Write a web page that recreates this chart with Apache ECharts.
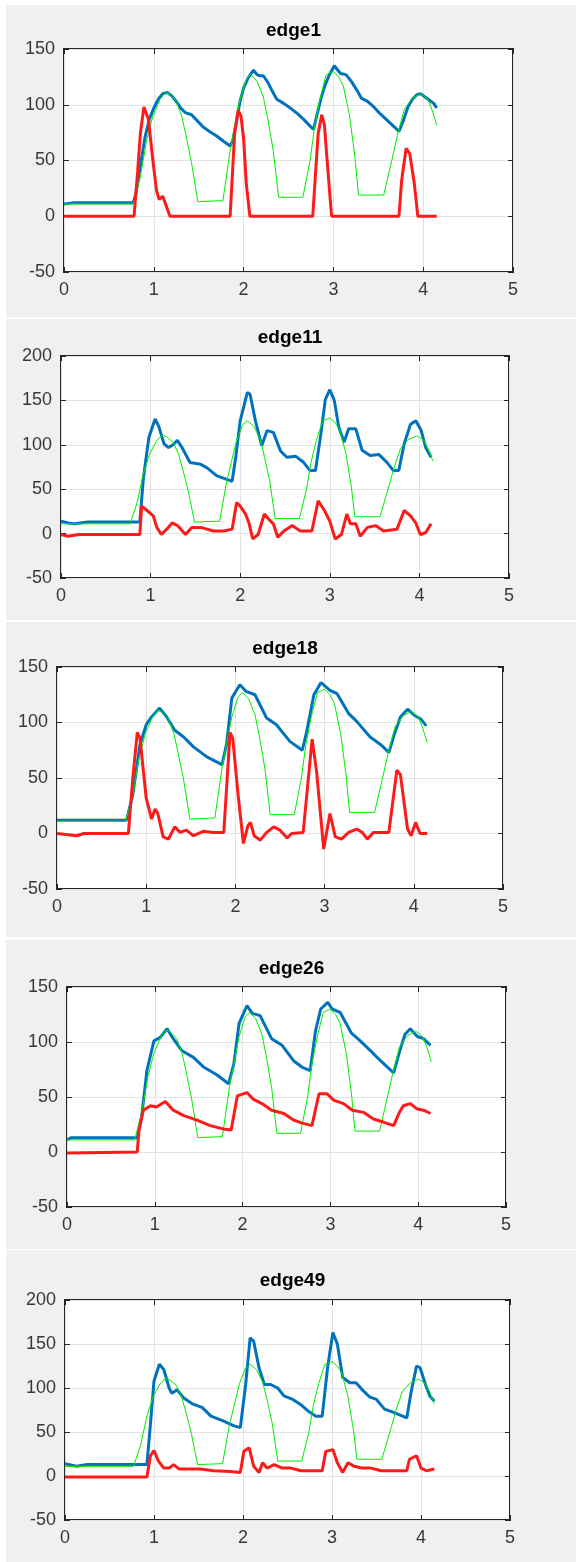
<!DOCTYPE html>
<html>
<head>
<meta charset="utf-8">
<script src="https://cdn.jsdelivr.net/npm/echarts@6/dist/echarts.min.js"></script>
<style>
  html, body { margin: 0; padding: 0; background: #fff; }
  body { width: 576px; height: 1562px; position: relative; overflow: hidden; }
  .panel { position: absolute; left: 6px; width: 570px; background: #f0f0f0; }
</style>
</head>
<body>
<div class="panel" id="p1" style="top:5px;height:312px"></div>
<div class="panel" id="p2" style="top:319px;height:301px"></div>
<div class="panel" id="p3" style="top:622px;height:315px"></div>
<div class="panel" id="p4" style="top:940px;height:309px"></div>
<div class="panel" id="p5" style="top:1250px;height:312px"></div>
<script>
// green reference curve (same in every panel)
const green = [[0,11],[0.77,11],[0.85,35],[0.92,68],[0.99,90],[1.07,105],[1.13,111],[1.18,109],[1.25,103],[1.31,90],[1.36,72],[1.42,48],[1.49,13],[1.77,14],[1.85,59],[1.9,80],[1.96,105],[2.03,123],[2.08,127],[2.15,121],[2.22,107],[2.27,87],[2.33,59],[2.39,17],[2.66,17],[2.74,50],[2.79,80],[2.85,105],[2.92,127],[3.0,130],[3.06,125],[3.11,117],[3.18,90],[3.24,53],[3.28,19],[3.56,19],[3.65,50],[3.72,75],[3.79,96],[3.88,106],[3.97,110],[4.05,105],[4.1,95],[4.15,82]];

// edge1
const blue1 = [[0,11],[0.1,12],[0.77,12],[0.8,20],[0.85,45],[0.9,70],[0.95,87],[1.0,97],[1.05,105],[1.1,110],[1.15,111],[1.2,108],[1.25,103],[1.3,97],[1.35,93],[1.42,91],[1.48,86],[1.55,80],[1.62,76],[1.7,72],[1.78,67],[1.85,63],[1.88,68],[1.92,85],[1.96,103],[2.0,115],[2.05,124],[2.11,131],[2.15,127],[2.18,126],[2.22,126],[2.27,120],[2.32,112],[2.37,105],[2.45,101],[2.52,97],[2.6,92],[2.68,86],[2.75,80],[2.78,78],[2.82,92],[2.86,105],[2.9,116],[2.95,126],[3.01,135],[3.05,131],[3.08,128],[3.14,127],[3.2,121],[3.27,112],[3.31,106],[3.38,103],[3.45,98],[3.52,92],[3.6,86],[3.68,80],[3.73,76],[3.78,86],[3.83,98],[3.88,105],[3.93,109],[3.97,110],[4.02,107],[4.07,104],[4.12,101],[4.15,97]];
const red1 = [[0,0],[0.78,0],[0.82,40],[0.85,74],[0.89,98],[0.94,87],[0.99,50],[1.03,23],[1.06,15],[1.1,18],[1.14,9],[1.18,0],[1.85,0],[1.9,74],[1.94,95],[1.97,90],[2.0,70],[2.03,29],[2.07,0],[2.77,0],[2.83,74],[2.87,91],[2.9,82],[2.93,50],[2.98,0],[3.73,0],[3.76,32],[3.81,61],[3.85,56],[3.9,30],[3.94,0],[4.15,0]];

// edge11
const blue2 = [[0,14],[0.08,12],[0.15,11],[0.3,13],[0.88,13],[0.92,63],[0.98,108],[1.05,129],[1.09,121],[1.15,101],[1.2,97],[1.25,100],[1.3,105],[1.35,97],[1.44,80],[1.56,78],[1.63,74],[1.74,65],[1.85,61],[1.91,59],[1.95,86],[2.0,127],[2.08,159],[2.11,157],[2.17,127],[2.24,99],[2.3,116],[2.37,114],[2.45,93],[2.52,86],[2.62,87],[2.71,80],[2.78,71],[2.84,71],[2.9,112],[2.95,151],[3.0,162],[3.05,150],[3.1,120],[3.16,103],[3.21,118],[3.29,118],[3.36,94],[3.45,88],[3.55,89],[3.64,80],[3.71,71],[3.77,71],[3.83,101],[3.9,123],[3.96,127],[4.02,116],[4.07,97],[4.13,86]];
const red2 = [[0,-1],[0.08,-3],[0.2,-1],[0.88,-1],[0.9,31],[0.96,26],[1.03,20],[1.07,7],[1.12,-1],[1.18,5],[1.24,12],[1.3,9],[1.39,-1],[1.46,7],[1.56,7],[1.63,5],[1.7,3],[1.82,3],[1.91,5],[1.96,35],[2.0,31],[2.06,22],[2.1,11],[2.14,-6],[2.2,-1],[2.27,22],[2.32,16],[2.37,11],[2.42,-4],[2.49,3],[2.58,9],[2.67,3],[2.8,3],[2.87,37],[2.94,26],[3.0,14],[3.06,-6],[3.13,-1],[3.19,22],[3.23,11],[3.29,11],[3.34,-3],[3.42,7],[3.51,9],[3.6,3],[3.75,5],[3.83,26],[3.9,20],[3.96,12],[4.01,-1],[4.07,1],[4.13,11]];

// edge18
const blue3 = [[0,12],[0.78,12],[0.85,35],[0.93,80],[1.0,98],[1.06,105],[1.15,113],[1.23,105],[1.32,93],[1.42,87],[1.53,78],[1.68,69],[1.85,62],[1.9,80],[1.96,122],[2.05,134],[2.12,128],[2.22,125],[2.35,104],[2.46,98],[2.61,83],[2.75,75],[2.8,92],[2.88,125],[2.96,136],[3.06,129],[3.14,126],[3.27,108],[3.36,101],[3.51,87],[3.63,80],[3.72,73],[3.78,89],[3.85,105],[3.93,112],[4.0,107],[4.08,103],[4.14,97]];
const red3 = [[0,0],[0.1,-1],[0.22,-2],[0.3,0],[0.8,0],[0.85,50],[0.9,91],[0.93,86],[1.0,32],[1.06,13],[1.1,22],[1.13,18],[1.19,-3],[1.25,-5],[1.32,6],[1.38,1],[1.45,3],[1.53,-2],[1.64,2],[1.75,1],[1.87,1],[1.94,91],[1.97,86],[2.03,35],[2.09,-9],[2.14,7],[2.17,10],[2.21,-2],[2.28,-6],[2.35,1],[2.43,6],[2.5,3],[2.58,-4],[2.63,0],[2.76,1],[2.86,85],[2.91,56],[2.99,-14],[3.06,18],[3.12,-3],[3.19,-5],[3.27,1],[3.36,4],[3.42,1],[3.48,-5],[3.55,1],[3.72,1],[3.81,57],[3.85,53],[3.93,4],[3.97,-2],[4.02,10],[4.07,0],[4.15,0]];

// edge26
const blue4 = [[0,11],[0.05,13],[0.8,13],[0.85,32],[0.91,74],[0.99,101],[1.06,104],[1.14,112],[1.21,103],[1.31,92],[1.44,86],[1.56,77],[1.71,70],[1.84,62],[1.9,80],[1.96,117],[2.05,133],[2.11,126],[2.2,124],[2.33,103],[2.45,97],[2.58,83],[2.68,77],[2.77,74],[2.83,110],[2.89,130],[2.97,136],[3.02,130],[3.11,127],[3.24,108],[3.34,101],[3.47,91],[3.57,83],[3.72,72],[3.79,92],[3.85,107],[3.91,112],[3.99,105],[4.06,103],[4.14,97]];
const red4 = [[0,-1],[0.8,0],[0.82,20],[0.87,38],[0.95,42],[1.02,41],[1.12,46],[1.21,38],[1.33,33],[1.48,29],[1.63,24],[1.78,21],[1.87,20],[1.94,51],[2.05,54],[2.12,48],[2.22,44],[2.33,38],[2.47,35],[2.58,29],[2.69,26],[2.79,24],[2.87,53],[2.96,53],[3.04,47],[3.15,44],[3.25,38],[3.38,36],[3.49,30],[3.61,27],[3.72,24],[3.78,35],[3.83,42],[3.91,44],[3.99,39],[4.06,38],[4.14,35]];

// edge49
const blue5 = [[0,14],[0.13,11],[0.25,13],[0.92,13],[0.96,59],[1.0,108],[1.06,127],[1.11,121],[1.17,100],[1.2,94],[1.26,98],[1.33,89],[1.43,82],[1.54,78],[1.64,68],[1.77,63],[1.9,57],[1.97,55],[2.03,104],[2.08,157],[2.12,153],[2.18,123],[2.24,104],[2.31,104],[2.39,100],[2.46,91],[2.56,87],[2.65,81],[2.73,74],[2.82,68],[2.89,68],[2.95,123],[3.01,163],[3.06,150],[3.12,112],[3.2,106],[3.27,106],[3.35,97],[3.42,90],[3.5,87],[3.59,76],[3.7,72],[3.84,66],[3.89,96],[3.95,125],[3.99,123],[4.05,104],[4.1,91],[4.15,85]];
const red5 = [[0,-1],[0.92,-1],[0.96,23],[1.0,29],[1.05,17],[1.11,9],[1.17,9],[1.22,13],[1.28,8],[1.37,8],[1.52,8],[1.67,6],[1.86,5],[1.97,4],[2.01,28],[2.07,32],[2.12,11],[2.18,4],[2.22,15],[2.27,9],[2.35,13],[2.44,9],[2.54,9],[2.65,6],[2.78,6],[2.89,6],[2.93,28],[3.01,30],[3.06,15],[3.12,4],[3.18,15],[3.25,11],[3.33,9],[3.44,9],[3.55,6],[3.7,6],[3.84,6],[3.87,19],[3.95,23],[4.0,9],[4.06,6],[4.15,8]];

const titles = ['edge1', 'edge11', 'edge18', 'edge26', 'edge49'];
const yMaxes = [150, 200, 150, 150, 200];
const blues = [blue1, blue2, blue3, blue4, blue5];
const reds = [red1, red2, red3, red4, red5];

// plot box inside each panel: left, top, width, height, title center y
const boxes = [
  [58, 44, 449, 223, 22],
  [55, 37, 448, 222, 15],
  [51, 45, 446, 222, 23],
  [61, 47, 439, 220, 25],
  [59, 50, 445, 220, 27]
];

const font = '"Liberation Sans", Arial, Helvetica, sans-serif';
const axisColor = '#262626';

function makeAxis(min, max, interval, pos, labels) {
  return {
    type: 'value', min: min, max: max, interval: interval, position: pos,
    axisLine: { show: false, onZero: false },
    axisTick: { show: true, inside: true, length: 5, lineStyle: { color: axisColor, width: 1 } },
    axisLabel: { show: labels, fontSize: 18, color: '#383838', fontFamily: font, margin: 9 },
    splitLine: { show: labels, lineStyle: { color: '#e3e3e3', width: 1 } }
  };
}

titles.forEach((t, i) => {
  const b = boxes[i];
  const chart = echarts.init(document.getElementById('p' + (i + 1)));
  chart.setOption({
    animation: false,
    title: {
      text: t, left: b[0] + b[2] / 2, top: b[4] - 11, textAlign: 'center',
      textStyle: { fontSize: 19, fontWeight: 'bold', color: '#000', fontFamily: font }
    },
    grid: {
      left: b[0], top: b[1], width: b[2], height: b[3],
      show: true, backgroundColor: '#fff', borderColor: axisColor, borderWidth: 2
    },
    xAxis: [makeAxis(0, 5, 1, 'bottom', true), makeAxis(0, 5, 1, 'top', false)],
    yAxis: [makeAxis(-50, yMaxes[i], 50, 'left', true), makeAxis(-50, yMaxes[i], 50, 'right', false)],
    series: [
      { type: 'line', data: blues[i], showSymbol: false, lineStyle: { color: '#0072bd', width: 3 }, z: 2 },
      { type: 'line', data: green, showSymbol: false, lineStyle: { color: '#00ee00', width: 1 }, z: 3 },
      { type: 'line', data: reds[i], showSymbol: false, lineStyle: { color: '#ff1a1a', width: 3 }, z: 4 }
    ]
  });
});
</script>
</body>
</html>
